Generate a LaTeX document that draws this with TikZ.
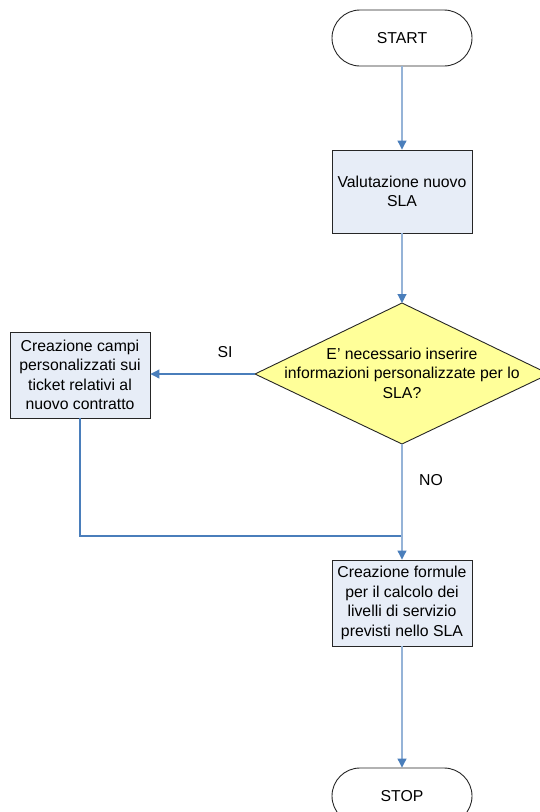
\documentclass[tikz,border=0pt]{standalone}
\usepackage{fontspec}
\setmainfont{Liberation Sans}
\usetikzlibrary{arrows.meta}
\definecolor{boxfill}{HTML}{E7EDF7}
\definecolor{decfill}{HTML}{FFFF99}
\definecolor{lineL}{HTML}{95B3D7}
\definecolor{lineD}{HTML}{4A7EBB}
\begin{document}
\begin{tikzpicture}[x=1pt,y=-1pt,
  txt/.style={font=\fontsize{15.8}{19.4}\selectfont, align=center, text=black},
  procbox/.style={txt, draw=black!85, fill=boxfill, line width=0.9pt, minimum width=140pt, inner sep=0pt},
  term/.style={txt, draw=black!85, line width=0.9pt, rounded corners=28pt, minimum width=140pt, minimum height=56pt, inner sep=0pt},
  conn/.style={line width=1.1pt, -{Triangle[length=9pt,width=9pt,color=lineD]}},
  lbl/.style={txt}
]
\useasboundingbox (0,0) rectangle (539,812);

\node[term] (start) at (402,38) {START};
\node[procbox, minimum height=83pt] (valu) at (402,191.5) {Valutazione nuovo\\SLA};

\coordinate (dT) at (402,303);
\coordinate (dL) at (255,374);
\coordinate (dB) at (402,444);
\coordinate (dR) at (549,374);
\draw[fill=decfill, draw=black!85, line width=0.9pt] (dT) -- (dR) -- (dB) -- (dL) -- cycle;
\node[txt] (dtext) at (402,373) {E’ necessario inserire\\informazioni personalizzate per lo\\SLA?};

\node[procbox, minimum height=86pt] (crea) at (80,375) {Creazione campi\\personalizzati sui\\ticket relativi al\\nuovo contratto};
\node[procbox, minimum height=86pt] (form) at (402,603) {Creazione formule\\per il calcolo dei\\livelli di servizio\\previsti nello SLA};
\node[term] (stop) at (402,796) {STOP};

\coordinate (merge) at (402,536);

\draw[conn, lineL] (start.south) -- (valu.north);
\draw[conn, lineL] (valu.south) -- (dT);
\draw[conn, lineD] (dL) -- (dL -| crea.east);
\draw[line width=1.1pt, lineD] (crea.south) |- (merge);
\draw[conn, lineL] (dB) -- (form.north);
\draw[conn, lineL] (form.south) -- (stop.north);

\node[lbl] (si) at (225,352) {SI};
\node[lbl] (no) at (431,480) {NO};
\end{tikzpicture}
\end{document}
